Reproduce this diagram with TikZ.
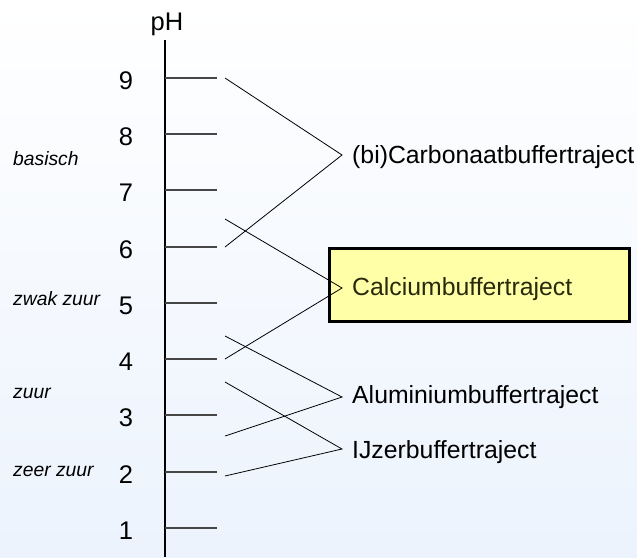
\documentclass[tikz,border=0pt]{standalone}
\usepackage{fontspec}
\setmainfont{Liberation Sans}
\definecolor{bgblue}{RGB}{236,243,253}
\definecolor{boxfill}{RGB}{255,255,168}
\definecolor{boxtext}{RGB}{40,40,10}
\definecolor{tickgray}{RGB}{70,70,70}
\begin{document}
\begin{tikzpicture}[x=1pt,y=-1pt,
  num/.style={font=\fontsize{25.5}{28}\selectfont, inner sep=0pt, anchor=base},
  side/.style={font=\fontsize{19.3}{22}\selectfont\itshape, inner sep=0pt, anchor=base west},
  lab/.style={font=\fontsize{24.8}{28}\selectfont, inner sep=0pt, anchor=base west},
  tickline/.style={draw=tickgray, line width=1.3pt},
  conn/.style={draw=black, line width=0.8pt},
  calbox/.style={draw=black, line width=2.5pt, fill=boxfill, minimum width=300pt, minimum height=73pt, inner sep=0pt, anchor=north west}]
\useasboundingbox (0,0) rectangle (637,557);
\shade[top color=white, bottom color=bgblue] (0,0) rectangle (637,557);
% axis
\node[num] (ph) at (167,30) {pH};
\coordinate (axtop) at (165,40);
\coordinate (axbot) at (165,557);
\draw[line width=1.2pt] (axtop) -- (axbot);
% ticks and numbers
\foreach \n/\y in {9/78,8/134,7/190,6/247,5/303,4/359,3/415,2/472,1/528}{
  \coordinate (ts\n) at (165,\y);
  \coordinate (te\n) at (217,\y);
  \draw[tickline] (ts\n) -- (te\n);
  \node[num] (n\n) at (126,\y+11.5) {\n};
}
% side labels
\node[side] (basisch) at (13,165) {basisch};
\node[side] (zwak) at (13,305) {zwak zuur};
\node[side] (zuur) at (13,398) {zuur};
\node[side] (zeer) at (13,476) {zeer zuur};
% calcium box
\fill[gray!55] (329.2,248.2) rectangle (630,321.5);
\node[calbox] (calbox) at (328,247) {};
% right labels
\node[lab] (carb) at (352,163) {(bi)Carbonaatbuffertraject};
\node[lab, text=boxtext] (calc) at (352,295) {Calciumbuffertraject};
\node[lab] (alu) at (352,403) {Aluminiumbuffertraject};
\node[lab] (ijz) at (352,458) {IJzerbuffertraject};
% vertices
\coordinate (vcarb) at (342,155);
\coordinate (vcalc) at (342,288);
\coordinate (valu) at (342,397);
\coordinate (vijz) at (342,449);
% free ends
\coordinate (c1) at (225,78);
\coordinate (c2) at (225,247);
\coordinate (k1) at (225,219);
\coordinate (k2) at (225,359);
\coordinate (a1) at (225,336);
\coordinate (a2) at (225,436);
\coordinate (i1) at (225,382);
\coordinate (i2) at (225,476);
\draw[conn] (c1) -- (vcarb) -- (c2);
\draw[conn] (k1) -- (vcalc) -- (k2);
\draw[conn] (a1) -- (valu) -- (a2);
\draw[conn] (i1) -- (vijz) -- (i2);
\end{tikzpicture}
\end{document}
